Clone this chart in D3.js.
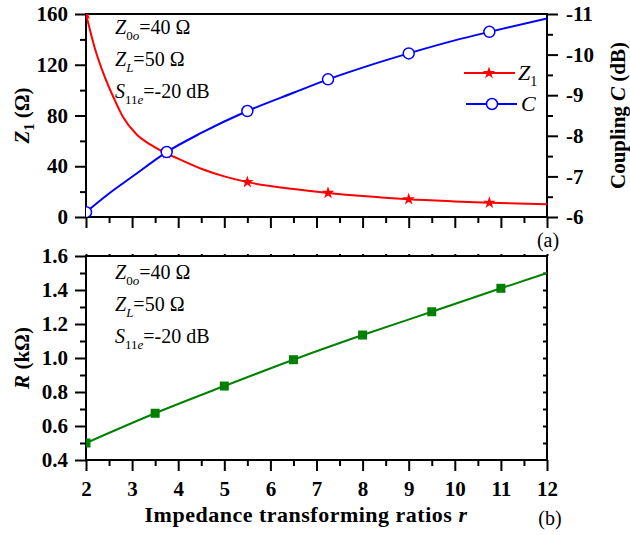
<!DOCTYPE html>
<html>
<head>
<meta charset="utf-8">
<script src="https://cdn.jsdelivr.net/npm/d3@7"></script>
<style>
  body { margin: 0; background: #fff; }
  svg, svg text { font-family: "Liberation Serif", "Times New Roman", serif; }
  .tk path, .tk line { stroke: #000; stroke-width: 2; }
</style>
</head>
<body>
<svg id="chart" width="630" height="535"></svg>
<script>
// panel (a): Z1 curve
const rZ = [2, 2.2, 2.4, 2.6, 2.8, 3.1, 3.4, 3.75, 4, 4.5, 5, 5.5, 6.5, 7.25, 8, 9, 10, 10.75, 12];
const z1 = [160, 132, 111, 94, 79, 65, 57, 50, 46, 38, 32, 27.5, 22, 19, 16.5, 14, 12.3, 11.2, 10];
// panel (a): coupling C (dB)
const rC = [2, 2.5, 3, 3.75, 4.5, 5.5, 6.5, 7.25, 8, 9, 10, 10.75, 12];
const coupling = [-6.12, -6.58, -6.99, -7.6, -8.07, -8.61, -9.06, -9.39, -9.68, -10.03, -10.35, -10.56, -10.89];
const markR = [2, 3.75, 5.5, 7.25, 9, 10.75];
// panel (b): R (kOhm)
const rR = [2, 3.5, 5, 6.5, 8, 9.5, 11, 12];
const resist = [0.5, 0.675, 0.835, 0.99, 1.135, 1.272, 1.41, 1.5];
const markRb = [2, 3.5, 5, 6.5, 8, 9.5, 11];

const xTicks = [2, 3, 4, 5, 6, 7, 8, 9, 10, 11, 12];
const z1Ticks = [0, 40, 80, 120, 160];
const cTicks = [-6, -7, -8, -9, -10, -11];
const rTicks = [0.4, 0.6, 0.8, 1.0, 1.2, 1.4, 1.6];

const svg = d3.select("#chart");
const left = 86, right = 547;
const topA = 14, botA = 217, topB = 256, botB = 460;

const x = d3.scaleLinear().domain([2, 12]).range([left, right]);
const yZ = d3.scaleLinear().domain([0, 160]).range([botA, topA]);
const yC = d3.scaleLinear().domain([-6, -11]).range([botA, topA]);
const yR = d3.scaleLinear().domain([0.4, 1.6]).range([botB, topB]);

const minorX = d3.range(2.5, 12, 1);

function axis(g, gen) {
  g.attr("class", "tk").call(gen);
  g.attr("font-family", null).attr("font-size", null);
  g.select(".domain").remove();
  g.selectAll("text")
    .style("font-family", '"Liberation Serif", "Times New Roman", serif')
    .style("font-weight", "bold")
    .style("font-size", "21px")
    .attr("fill", "#000")
    .text(function() { return d3.select(this).text().replace("−", "-"); });
}

// clip paths
const defs = svg.append("defs");
defs.append("clipPath").attr("id", "clipA").append("rect")
  .attr("x", left).attr("y", topA).attr("width", right - left).attr("height", botA - topA);
defs.append("clipPath").attr("id", "clipB").append("rect")
  .attr("x", left).attr("y", topB).attr("width", right - left).attr("height", botB - topB);

// ---------- panel (a) axes ----------
svg.append("g").attr("transform", `translate(0,${botA})`)
  .call(g => axis(g, d3.axisBottom(x).tickValues(xTicks).tickSize(11).tickFormat("")));
svg.append("g").attr("transform", `translate(0,${botA})`)
  .call(g => axis(g, d3.axisBottom(x).tickValues(minorX).tickSize(6).tickFormat("")));
svg.append("g").attr("transform", `translate(${left},0)`)
  .call(g => axis(g, d3.axisLeft(yZ).tickValues(z1Ticks).tickSize(11).tickPadding(7)));
svg.append("g").attr("transform", `translate(${left},0)`)
  .call(g => axis(g, d3.axisLeft(yZ).tickValues(d3.range(20, 160, 40)).tickSize(6).tickFormat("")));
svg.append("g").attr("transform", `translate(${right},0)`)
  .call(g => axis(g, d3.axisRight(yC).tickValues(cTicks).tickSize(11).tickPadding(8).tickFormat(d3.format("d"))));
svg.append("g").attr("transform", `translate(${right},0)`)
  .call(g => axis(g, d3.axisRight(yC).tickValues(d3.range(-6.5, -11, -1)).tickSize(6).tickFormat("")));

svg.append("rect").attr("x", left).attr("y", topA).attr("width", right - left).attr("height", botA - topA)
  .attr("fill", "none").attr("stroke", "#000").attr("stroke-width", 2);

// ---------- panel (a) data ----------
const plotA = svg.append("g").attr("clip-path", "url(#clipA)");
const lineZ = d3.line().x(d => x(d[0])).y(d => yZ(d[1])).curve(d3.curveMonotoneX);
const lineC = d3.line().x(d => x(d[0])).y(d => yC(d[1])).curve(d3.curveMonotoneX);
const zData = d3.zip(rZ, z1);
const cData = d3.zip(rC, coupling);

plotA.append("path").datum(zData).attr("d", lineZ)
  .attr("fill", "none").attr("stroke", "#ff0000").attr("stroke-width", 2);
const star = d3.symbol(d3.symbolStar, 48);
plotA.selectAll(".star").data(zData.filter(d => markR.includes(d[0]))).join("path")
  .attr("transform", d => `translate(${x(d[0])},${yZ(d[1])})`)
  .attr("d", star).attr("fill", "#ff0000");

plotA.append("path").datum(cData).attr("d", lineC)
  .attr("fill", "none").attr("stroke", "#0000ff").attr("stroke-width", 2);
plotA.selectAll(".circ").data(cData.filter(d => markR.includes(d[0]))).join("circle")
  .attr("cx", d => x(d[0])).attr("cy", d => yC(d[1])).attr("r", 5.5)
  .attr("fill", "#fff").attr("stroke", "#0000ff").attr("stroke-width", 1.5);

// legend
const lg = svg.append("g");
lg.append("line").attr("x1", 464).attr("x2", 515).attr("y1", 73).attr("y2", 73)
  .attr("stroke", "#ff0000").attr("stroke-width", 2);
lg.append("path").attr("transform", "translate(489,73)").attr("d", star).attr("fill", "#ff0000");
lg.append("text").attr("x", 518).attr("y", 80).attr("font-size", 22)
  .html('<tspan font-style="italic">Z</tspan><tspan font-size="14" dy="6">1</tspan>');
lg.append("line").attr("x1", 466).attr("x2", 517).attr("y1", 104).attr("y2", 104)
  .attr("stroke", "#0000ff").attr("stroke-width", 2);
lg.append("circle").attr("cx", 492).attr("cy", 104).attr("r", 5.5)
  .attr("fill", "#fff").attr("stroke", "#0000ff").attr("stroke-width", 1.5);
lg.append("text").attr("x", 521).attr("y", 111).attr("font-size", 22).attr("font-style", "italic").text("C");

// ---------- panel (b) axes ----------
svg.append("g").attr("transform", `translate(0,${botB})`)
  .call(g => axis(g, d3.axisBottom(x).tickValues(xTicks).tickSize(11).tickPadding(10)));
svg.append("g").attr("transform", `translate(0,${botB})`)
  .call(g => axis(g, d3.axisBottom(x).tickValues(minorX).tickSize(6).tickFormat("")));
svg.append("g").attr("transform", `translate(0,${topB})`)
  .call(g => axis(g, d3.axisTop(x).tickValues(d3.range(2, 12.01, 0.5)).tickSize(2).tickFormat("")));
svg.append("g").attr("transform", `translate(${left},0)`)
  .call(g => axis(g, d3.axisLeft(yR).tickValues(rTicks).tickSize(11).tickPadding(7).tickFormat(d3.format(".1f"))));
svg.append("g").attr("transform", `translate(${left},0)`)
  .call(g => axis(g, d3.axisLeft(yR).tickValues(d3.range(0.5, 1.6, 0.2)).tickSize(6).tickFormat("")));
svg.append("g").attr("transform", `translate(${right},0)`)
  .call(g => axis(g, d3.axisLeft(yR).tickValues(d3.range(0.5, 1.6, 0.1)).tickSize(4).tickFormat("")));

svg.append("rect").attr("x", left).attr("y", topB).attr("width", right - left).attr("height", botB - topB)
  .attr("fill", "none").attr("stroke", "#000").attr("stroke-width", 2);

// ---------- panel (b) data ----------
const plotB = svg.append("g").attr("clip-path", "url(#clipB)");
const rData = d3.zip(rR, resist);
plotB.append("path").datum(rData)
  .attr("d", d3.line().x(d => x(d[0])).y(d => yR(d[1])).curve(d3.curveMonotoneX))
  .attr("fill", "none").attr("stroke", "#008000").attr("stroke-width", 2);
plotB.selectAll(".sq").data(rData.filter(d => markRb.includes(d[0]))).join("rect")
  .attr("x", d => x(d[0]) - 4.5).attr("y", d => yR(d[1]) - 4.5)
  .attr("width", 9).attr("height", 9).attr("fill", "#008000");

// ---------- annotations ----------
function notes(y0) {
  const g = svg.append("g").attr("font-size", 20);
  g.append("text").attr("x", 115).attr("y", y0)
    .html('<tspan font-style="italic">Z</tspan><tspan font-size="13" dy="6">0</tspan><tspan font-size="13" font-style="italic">o</tspan><tspan dy="-6">=40 Ω</tspan>');
  g.append("text").attr("x", 115).attr("y", y0 + 32)
    .html('<tspan font-style="italic">Z</tspan><tspan font-size="13" dy="6" font-style="italic">L</tspan><tspan dy="-6">=50 Ω</tspan>');
  g.append("text").attr("x", 115).attr("y", y0 + 64)
    .html('<tspan font-style="italic">S</tspan><tspan font-size="13" dy="6">11</tspan><tspan font-size="13" font-style="italic">e</tspan><tspan dy="-6">=-20 dB</tspan>');
}
notes(34);
notes(279);

svg.append("text").attr("x", 548).attr("y", 247).attr("text-anchor", "middle").attr("font-size", 20).text("(a)");
svg.append("text").attr("x", 550).attr("y", 525).attr("text-anchor", "middle").attr("font-size", 20).text("(b)");

// axis titles
svg.append("text").attr("transform", `translate(29,${(topA + botA) / 2}) rotate(-90)`)
  .attr("text-anchor", "middle").attr("font-weight", "bold").attr("font-size", 21)
  .html('<tspan font-style="italic">Z</tspan><tspan font-size="14" dy="5">1</tspan><tspan dy="-5"> (Ω)</tspan>');
svg.append("text").attr("transform", `translate(29,${(topB + botB) / 2}) rotate(-90)`)
  .attr("text-anchor", "middle").attr("font-weight", "bold").attr("font-size", 21)
  .html('<tspan font-style="italic">R</tspan> (kΩ)');
svg.append("text").attr("transform", `translate(625,${(topA + botA) / 2}) rotate(-90)`)
  .attr("text-anchor", "middle").attr("font-weight", "bold").attr("font-size", 21)
  .html('Coupling <tspan font-style="italic">C</tspan> (dB)');
svg.append("text").attr("x", 306).attr("y", 522).attr("text-anchor", "middle")
  .attr("font-weight", "bold").attr("font-size", 22).attr("letter-spacing", 0.5)
  .html('Impedance transforming ratios <tspan font-style="italic">r</tspan>');
</script>
</body>
</html>
